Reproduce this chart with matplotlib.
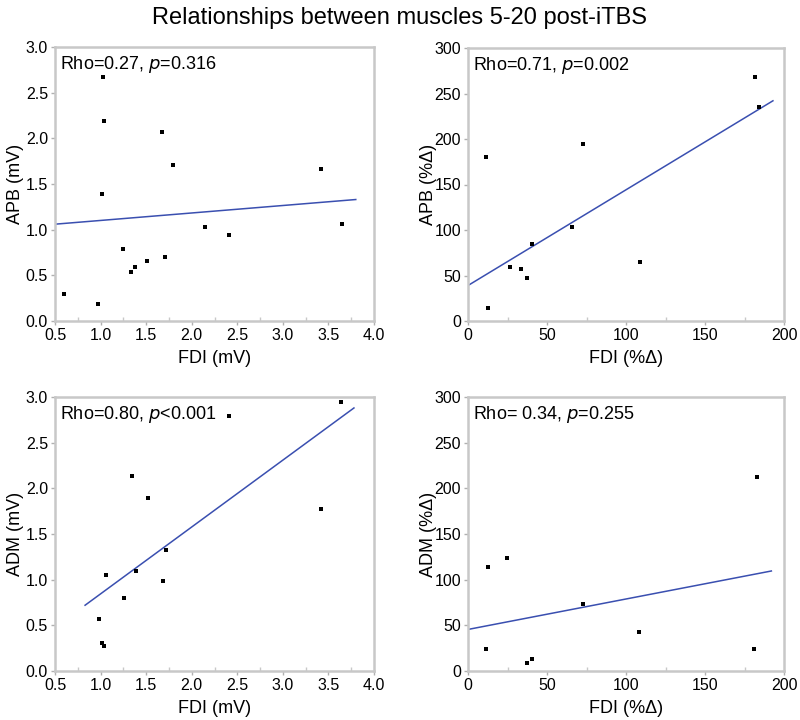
import numpy as np
import matplotlib.pyplot as plt
from matplotlib.ticker import FormatStrFormatter, AutoMinorLocator

plt.rcParams['font.family'] = ['Liberation Sans', 'DejaVu Sans']

# Top-left: FDI (mV) vs APB (mV)
fdi_mv_apb = [1.03, 1.04, 1.67, 1.79, 1.02, 3.42, 2.15, 2.41, 3.65, 1.25, 1.71, 1.51, 1.38, 1.33, 0.60, 0.97]
apb_mv = [2.67, 2.19, 2.07, 1.71, 1.39, 1.66, 1.03, 0.94, 1.06, 0.79, 0.70, 0.66, 0.59, 0.54, 0.30, 0.19]
fit_apb_mv = ([0.5, 3.8], [1.06, 1.33])

# Top-right: FDI (%Δ) vs APB (%Δ)
fdi_pct_apb = [181.9, 184.0, 73.0, 11.2, 66.0, 40.5, 109.1, 26.6, 33.5, 37.3, 12.4]
apb_pct = [267.8, 234.8, 194.1, 179.9, 103.7, 84.6, 65.2, 59.0, 57.1, 46.9, 13.9]
fit_apb_pct = ([0, 193], [39, 242])

# Bottom-left: FDI (mV) vs ADM (mV)
fdi_mv_adm = [3.64, 2.41, 1.34, 1.52, 3.42, 1.72, 1.06, 1.39, 1.68, 1.26, 0.98, 1.02, 1.04]
adm_mv = [2.94, 2.79, 2.14, 1.89, 1.77, 1.32, 1.05, 1.09, 0.99, 0.80, 0.57, 0.31, 0.27]
fit_adm_mv = ([0.83, 3.78], [0.72, 2.88])

# Bottom-right: FDI (%Δ) vs ADM (%Δ)
fdi_pct_adm = [182.9, 24.5, 12.4, 72.6, 108.4, 11.2, 181.0, 40.3, 37.3]
adm_pct = [212.8, 124.1, 113.9, 73.7, 42.3, 24.5, 23.7, 13.5, 8.8]
fit_adm_pct = ([0, 192], [45.5, 109.5])

stats = ['Rho=0.27, $\\it{p}$=0.316', 'Rho=0.71, $\\it{p}$=0.002',
         'Rho=0.80, $\\it{p}$<0.001', 'Rho= 0.34, $\\it{p}$=0.255']

fig = plt.figure(figsize=(8, 7.2), dpi=100)
fig.suptitle('Relationships between muscles 5-20 post-iTBS', fontsize=17, y=0.99)

W, H = 800, 720
boxes = [(55, 47, 374, 321), (468, 48, 784, 321),
         (55, 397, 374, 671), (468, 397, 784, 671)]
panels = [
    (fdi_mv_apb, apb_mv, fit_apb_mv, 'FDI (mV)', 'APB (mV)', 'mv'),
    (fdi_pct_apb, apb_pct, fit_apb_pct, 'FDI (%Δ)', 'APB (%Δ)', 'pct'),
    (fdi_mv_adm, adm_mv, fit_adm_mv, 'FDI (mV)', 'ADM (mV)', 'mv'),
    (fdi_pct_adm, adm_pct, fit_adm_pct, 'FDI (%Δ)', 'ADM (%Δ)', 'pct'),
]

for (l, t, r, b), (x, y, fit, xl, yl, kind), txt in zip(boxes, panels, stats):
    ax = fig.add_axes([l / W, 1 - b / H, (r - l) / W, (b - t) / H])
    ax.plot(fit[0], fit[1], color='#3a4fb0', lw=1.1, zorder=2)
    ax.scatter(x, y, s=7, marker='s', color='black', zorder=3, linewidths=0)
    if kind == 'mv':
        ax.set_xlim(0.5, 4.0)
        ax.set_ylim(0, 3.0)
        ax.set_xticks(np.arange(0.5, 4.01, 0.5))
        ax.set_yticks(np.arange(0, 3.01, 0.5))
        ax.xaxis.set_major_formatter(FormatStrFormatter('%.1f'))
        ax.yaxis.set_major_formatter(FormatStrFormatter('%.1f'))
    else:
        ax.set_xlim(0, 200)
        ax.set_ylim(0, 300)
        ax.set_xticks(np.arange(0, 201, 50))
        ax.set_yticks(np.arange(0, 301, 50))
    ax.xaxis.set_minor_locator(AutoMinorLocator(2))
    for s in ax.spines.values():
        s.set_color('#c8c8c8')
        s.set_linewidth(1.8)
    ax.tick_params(which='major', length=3, width=1, color='#b0b0b0',
                   labelsize=11.5, pad=2)
    ax.tick_params(axis='x', which='minor', direction='in', length=3,
                   width=1, color='#c8c8c8')
    ax.set_xlabel(xl, fontsize=13, labelpad=5)
    ax.set_ylabel(yl, fontsize=13)
    ax.yaxis.set_label_coords(-31 / (r - l), 0.5)
    ax.text(0.015, 0.975, txt, transform=ax.transAxes, fontsize=13,
            va='top', ha='left')

fig.savefig('out.png', dpi=100)
